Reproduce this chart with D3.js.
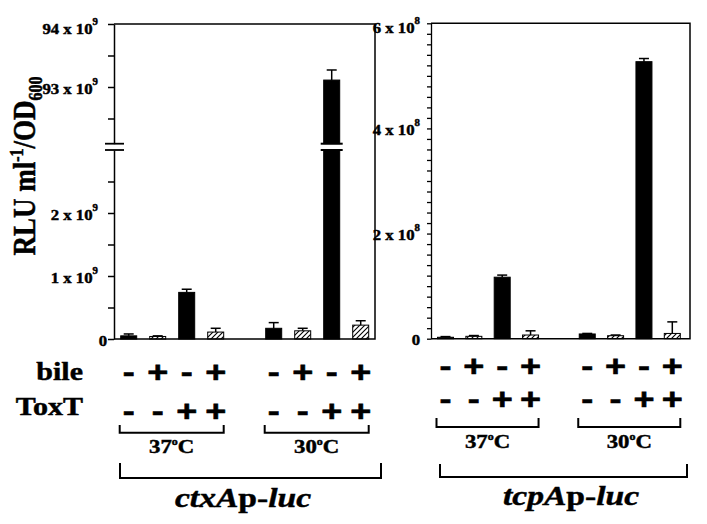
<!DOCTYPE html>
<html>
<head>
<meta charset="utf-8">
<script src="https://d3js.org/d3.v7.min.js"></script>
<style>
  body { margin: 0; background: #fff; }
  text { font-family: "Liberation Serif", "Times New Roman", serif; font-weight: 700; fill: #000; stroke: #000; stroke-width: 0.45px; }
  text.sign { font-family: "Liberation Sans", Arial, sans-serif; stroke-width: 0.6px; }
</style>
</head>
<body>
<div id="chart"></div>
<script>
// conditions (same order in both panels)
var bile = ["-", "+", "-", "+", "-", "+", "-", "+"];
var toxT = ["-", "-", "+", "+", "-", "-", "+", "+"];
var temps = ["37", "30"];
var genes = [["ctxA", "p-", "luc"], ["tcpA", "p-", "luc"]];

// ctxAp-luc, RLU ml-1/OD600 (mean and upper error)
var ctxMean = [0.05e9, 0.04e9, 0.74e9, 0.11e9, 0.17e9, 0.13e9, 93.11e9, 0.22e9];
var ctxErr  = [0.03e9, 0.01e9, 0.05e9, 0.06e9, 0.09e9, 0.04e9, 0.16e9, 0.07e9];

// tcpAp-luc
var tcpMean = [0.027e8, 0.045e8, 1.17e8, 0.07e8, 0.09e8, 0.057e8, 5.27e8, 0.10e8];
var tcpErr  = [0.013e8, 0.015e8, 0.04e8, 0.08e8, 0.01e8, 0.013e8, 0.06e8, 0.22e8];

// axis ticks and labels
var ctxLowTicks  = [0, 0.5e9, 1e9, 1.5e9, 2e9, 2.5e9];
var ctxHighTicks = [92.5e9, 93e9, 93.5e9, 94e9];
var ctxLabelVals = [0, 1e9, 2e9, 93e9, 94e9];
var ctxLabelText = ["0", "1 x 10", "2 x 10", "93 x 10", "94 x 10"];
var tcpTicks = d3.range(0, 31).map(function(i) { return i * 2e7; });
var tcpLabelVals = [0, 2e8, 4e8, 6e8];
var tcpLabelText = ["0", "2 x 10", "4 x 10", "6 x 10"];

var SX = 1.2; // the scanned figure is a bit wider than tall

var svg = d3.select("#chart").append("svg")
  .attr("width", 707).attr("height", 524);

var defs = svg.append("defs");
defs.append("pattern")
    .attr("id", "hatch")
    .attr("patternUnits", "userSpaceOnUse")
    .attr("width", 5).attr("height", 5)
  .append("path")
    .attr("d", "M-1,1 l2,-2 M0,5 l5,-5 M4,6 l2,-2")
    .attr("stroke", "#000").attr("stroke-width", 1.1);

function txt(g, x, y, anchor, size, sx) {
  return g.append("text")
    .attr("transform", "translate(" + x + "," + y + ") scale(" + (sx || SX) + ",1)")
    .attr("text-anchor", anchor)
    .style("font-size", size + "px");
}

function slot(i) { return i < 4 ? i : i + 1; }

// ---------- left panel (broken axis) ----------
var xL = d3.scaleLinear().domain([0, 8]).range([128.7, 360.7]);
var yLow = d3.scaleLinear().domain([0, 3e9]).range([339, 150]);
var yHigh = d3.scaleLinear().domain([92.1e9, 94e9]).range([143.7, 24]);

// ---------- right panel ----------
var xR = d3.scaleLinear().domain([0, 8]).range([445.5, 672.3]);
var yR = d3.scaleLinear().domain([0, 6e8]).range([338.7, 23.3]);

// frames
svg.append("path")
  .attr("d", "M114,24 H375 V339 H114")
  .attr("fill", "none").attr("stroke", "#000").attr("stroke-width", 1.5);
svg.append("path")
  .attr("d", "M431,23.3 H690 V338.7 H431")
  .attr("fill", "none").attr("stroke", "#000").attr("stroke-width", 1.5);

// left axes
[[yLow, ctxLowTicks], [yHigh, ctxHighTicks]].forEach(function(a) {
  svg.append("g")
    .attr("transform", "translate(114,0)")
    .call(d3.axisLeft(a[0]).tickValues(a[1]).tickSize(6).tickSizeOuter(0).tickFormat(""))
    .call(function(g) { g.selectAll("path,line").attr("stroke-width", 1.5); });
});
// axis break marks
[143.7, 150].forEach(function(y) {
  svg.append("line").attr("x1", 105).attr("x2", 124).attr("y1", y).attr("y2", y)
    .attr("stroke", "#000").attr("stroke-width", 1.8);
});

// right axis
svg.append("g")
  .attr("transform", "translate(431,0)")
  .call(d3.axisLeft(yR).tickValues(tcpTicks).tickSize(4).tickSizeOuter(0).tickFormat(""))
  .call(function(g) { g.selectAll("path,line").attr("stroke-width", 1.3); });

// tick labels
ctxLabelVals.forEach(function(v, i) {
  var y = v > 3e9 ? yHigh(v) : yLow(v);
  var dy = v === 94e9 ? 9.5 : 6.5;
  var t = txt(svg, ctxLabelText[i] === "0" ? 107 : 98, y + dy, "end", 15.5, 1.08);
  t.append("tspan").text(ctxLabelText[i]);
  if (ctxLabelText[i] !== "0") t.append("tspan").attr("dy", -9).style("font-size", "10px").text("9");
});
tcpLabelVals.forEach(function(v, i) {
  var dy = v === 6e8 ? 9.5 : 6.5;
  var t = txt(svg, 420, yR(v) + dy, "end", 15.5, 1.08);
  t.append("tspan").text(tcpLabelText[i]);
  if (tcpLabelText[i] !== "0") t.append("tspan").attr("dy", -9).style("font-size", "10px").text("8");
});

// bars
var bw = 16;
function fillOf(i) { return bile[i] === "+" ? "url(#hatch)" : "#000"; }

function errBar(x, y0, y1) {
  svg.append("line").attr("x1", x).attr("x2", x).attr("y1", y0).attr("y2", y1)
    .attr("stroke", "#000").attr("stroke-width", 1.5);
  svg.append("line").attr("x1", x - 5).attr("x2", x + 5).attr("y1", y1).attr("y2", y1)
    .attr("stroke", "#000").attr("stroke-width", 1.5);
}

ctxMean.forEach(function(v, i) {
  var cx = xL(slot(i));
  if (v > 3e9) {
    var top = yHigh(v);
    errBar(cx, top, yHigh(v + ctxErr[i]));
    svg.append("rect").attr("x", cx - bw / 2).attr("y", top)
      .attr("width", bw).attr("height", yHigh(92.1e9) - top)
      .attr("fill", fillOf(i)).attr("stroke", "#000");
    svg.append("rect").attr("x", cx - bw / 2).attr("y", yLow(3e9))
      .attr("width", bw).attr("height", yLow(0) - yLow(3e9))
      .attr("fill", fillOf(i)).attr("stroke", "#000");
    [yHigh(92.1e9), yLow(3e9)].forEach(function(y) {
      svg.append("line").attr("x1", cx - bw / 2 - 3).attr("x2", cx + bw / 2 + 3)
        .attr("y1", y).attr("y2", y).attr("stroke", "#000").attr("stroke-width", 2);
    });
  } else {
    errBar(cx, yLow(v), yLow(v + ctxErr[i]));
    svg.append("rect").attr("x", cx - bw / 2).attr("y", yLow(v))
      .attr("width", bw).attr("height", yLow(0) - yLow(v))
      .attr("fill", fillOf(i)).attr("stroke", "#000");
  }
});

tcpMean.forEach(function(v, i) {
  var cx = xR(slot(i));
  errBar(cx, yR(v), yR(v + tcpErr[i]));
  svg.append("rect").attr("x", cx - bw / 2).attr("y", yR(v))
    .attr("width", bw).attr("height", yR(0) - yR(v))
    .attr("fill", fillOf(i)).attr("stroke", "#000");
});

// y title
var title = svg.append("text")
  .attr("transform", "translate(35,166) scale(" + SX + ",1) rotate(-90)")
  .attr("text-anchor", "middle")
  .style("font-size", "27px");
title.append("tspan").text("RLU ml");
title.append("tspan").attr("dy", -10).style("font-size", "16px").text("-1");
title.append("tspan").attr("dy", 10).text("/OD");
title.append("tspan").attr("dy", 6).style("font-size", "16px").text("600");

// condition rows
txt(svg, 83, 380, "end", 25).text("bile");
txt(svg, 83, 415, "end", 25).text("ToxT");

function signs(x, rowY) {
  [bile, toxT].forEach(function(row, r) {
    row.forEach(function(s, i) {
      txt(svg, x(slot(i)), rowY[r], "middle", 30).attr("class", "sign").text(s);
    });
  });
}
signs(xL, [382, 420.5]);
signs(xR, [375.5, 408.5]);

function bracket(x0, x1, yTop, yBot) {
  svg.append("path")
    .attr("d", "M" + x0 + "," + yTop + " V" + yBot + " H" + x1 + " V" + yTop)
    .attr("fill", "none").attr("stroke", "#000").attr("stroke-width", 2);
}

// temperature brackets
[[xL, 425, 432.7, 453], [xR, 418, 427, 448]].forEach(function(p) {
  var x = p[0];
  temps.forEach(function(t, k) {
    var a = x(slot(k * 4)) - 9, b = x(slot(k * 4 + 3)) + 8;
    bracket(a, b, p[1], p[2]);
    var lab = txt(svg, (a + b) / 2, p[3], "middle", 19);
    lab.append("tspan").text(t);
    lab.append("tspan").attr("dy", -8).style("font-size", "10px").text("o");
    lab.append("tspan").attr("dy", 8).text("C");
  });
});

// reporter brackets
[[120, 381, 463, 478, 243, 507], [440, 687, 464, 477, 571, 505]].forEach(function(p, k) {
  bracket(p[0], p[1], p[2], p[3]);
  var t = txt(svg, p[4], p[5], "middle", 28);
  t.append("tspan").style("font-style", "italic").text(genes[k][0]);
  t.append("tspan").text(genes[k][1]);
  t.append("tspan").style("font-style", "italic").text(genes[k][2]);
});
</script>
</body>
</html>
